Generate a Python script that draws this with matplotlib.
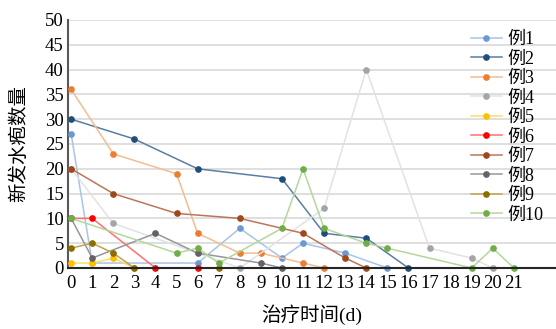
import matplotlib
matplotlib.use("Agg")
import matplotlib.pyplot as plt

plt.rcParams['font.family'] = ['Liberation Serif', 'Noto Sans CJK SC', 'DejaVu Sans']

tick_labels = [str(i) for i in range(22)]

names = ['例1', '例2', '例3', '例4', '例5', '例6', '例7', '例8', '例9', '例10']

days1 = [0, 1, 6, 8, 10, 11, 13, 15]
vals1 = [27, 1, 1, 8, 2, 5, 3, 0]
days2 = [0, 3, 6, 10, 12, 14, 16]
vals2 = [30, 26, 20, 18, 7, 6, 0]
days3 = [0, 2, 5, 6, 8, 9, 11, 12]
vals3 = [36, 23, 19, 7, 3, 3, 1, 0]
days4 = [0, 2, 8, 12, 14, 17, 19, 20]
vals4 = [20, 9, 0, 12, 40, 4, 2, 0]
days5 = [0, 1, 2, 3]
vals5 = [1, 1, 2, 0]
days6 = [0, 1, 4, 6]
vals6 = [10, 10, 0, 0]
days7 = [0, 2, 5, 8, 11, 13, 14]
vals7 = [20, 15, 11, 10, 7, 2, 0]
days8 = [0, 1, 4, 6, 9, 10]
vals8 = [10, 2, 7, 3, 1, 0]
days9 = [0, 1, 2, 3, 7]
vals9 = [4, 5, 3, 0, 0]
days10 = [0, 5, 6, 7, 10, 11, 12, 14, 15, 19, 20, 21]
vals10 = [10, 3, 4, 1, 8, 20, 8, 5, 4, 0, 4, 0]

all_days = [days1, days2, days3, days4, days5, days6, days7, days8, days9, days10]
all_vals = [vals1, vals2, vals3, vals4, vals5, vals6, vals7, vals8, vals9, vals10]

line_colors = ['#A8C4E6', '#5A7DA3', '#F4BC92', '#E2E2E2', '#FFDD66',
               '#FF7070', '#BC7558', '#979797', '#C0A450', '#B4D79C']
marker_colors = ['#6A9AD6', '#1F4E79', '#ED7D31', '#A5A5A5', '#FFC000',
                 '#FF0000', '#A0481C', '#636363', '#8C6D00', '#70AD47']

fig = plt.figure(figsize=(5.56, 3.29), dpi=100)
ax = fig.add_axes([68/556, 1-268/329, 1-68/556, (268-20)/329])

for d, v, n, lc, mc in zip(all_days, all_vals, names, line_colors, marker_colors):
    ax.plot(d, v, color=lc, lw=1.1, marker='o', ms=3.8,
            markerfacecolor=mc, markeredgecolor=mc, label=n, clip_on=False, zorder=3)

ax.set_xlim(-0.15, 23.0)
ax.set_ylim(0, 50)
ax.set_yticks(range(0, 51, 5))
ax.set_xticks(range(22))
ax.set_xticklabels(tick_labels)
ax.tick_params(axis='both', length=0, labelsize=13.5, pad=3)
ax.tick_params(axis='x', pad=5)
ax.yaxis.grid(True, color='#D9D9D9', lw=1.2)
ax.set_axisbelow(True)
for s in ['top', 'right']:
    ax.spines[s].set_visible(False)
ax.spines['left'].set_color('#595959')
ax.spines['left'].set_linewidth(1.5)
ax.spines['bottom'].set_color('#262626')
ax.spines['bottom'].set_linewidth(1.5)
ax.spines['bottom'].set_zorder(4)

ax.set_xlabel('治疗时间(d)', fontsize=14, labelpad=9)
ax.set_ylabel('新发水疱数量', fontsize=14, labelpad=12)

leg = ax.legend(loc='upper left', bbox_to_anchor=(0.81, 0.985), frameon=False,
                fontsize=13, handlelength=1.75, handletextpad=0.3,
                labelspacing=0.14, borderaxespad=0)

fig.savefig('out.png', dpi=100)
